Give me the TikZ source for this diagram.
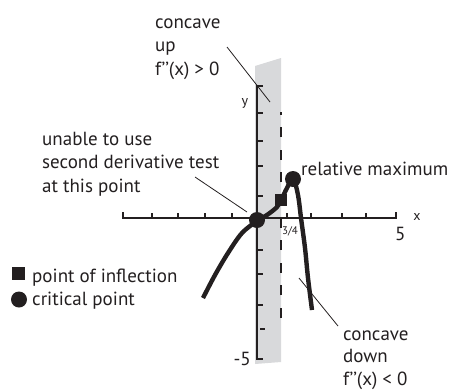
\documentclass[tikz,border=0pt]{standalone}
\usepackage{fontspec}
\setmainfont{PT Sans}
\definecolor{bandgray}{RGB}{216,217,219}
\definecolor{ink}{RGB}{35,31,32}
\begin{document}
\begin{tikzpicture}[x=1pt,y=-1pt,
  lbl/.style={inner sep=0pt, anchor=base west, align=left, text=ink,
              font=\fontsize{19}{23.5}\selectfont},
  small/.style={inner sep=0pt, text=ink, font=\fontsize{14}{14}\selectfont},
  axline/.style={line width=2.5pt, draw=ink},
  tickline/.style={line width=2pt, draw=ink},
  pointer/.style={line width=0.8pt, draw=ink},
  curveline/.style={line width=4.4pt, draw=ink, line cap=butt},
  crit/.style={circle, fill=ink, inner sep=0pt, minimum size=16pt},
  infl/.style={rectangle, fill=ink, inner sep=0pt, minimum size=12.5pt}]
\useasboundingbox (0,0) rectangle (450,389);
% shaded band
\fill[bandgray] (255,66) -- (281,58) -- (281,362) -- (255,364) -- cycle;
% x axis
\draw[axline] (123,212) -- (123,218) -- (396,218) -- (396,212);
\foreach \x in {152,178,205,232,287,311,342,366}
  \draw[tickline] (\x,218) -- (\x,212.5);
% y axis
\draw[axline] (263,86) -- (257,86) -- (257,359) -- (263,359);
\foreach \y in {113,141,166,196,250,274,305}
  \draw[tickline] (257,\y) -- (263,\y);
\draw[tickline] (260,329) -- (265,329);
% dashed line at x = 3/4
\draw[line width=2.5pt, draw=ink, dash pattern=on 10pt off 12.6pt] (281,318) -- (281,112);
% the curve
\draw[curveline] plot[smooth, tension=0.55] coordinates {
  (203,298) (215,275) (228,253) (242,233) (257,221) (267,215) (277,207)
  (281,200) (287,188) (293,178) (298,195) (301,218) (305,248) (308,278) (312,310)};
% points
\node[crit] (cp0) at (257,220) {};
\node[crit] (cpmax) at (293,179) {};
\node[infl] (ip) at (281,200) {};
% axis labels
\node[small] (ylab) at (245,103) {y};
\node[small] (xlab) at (417,217) {x};
\node[small, font=\fontsize{11}{11}\selectfont] (q) at (290,231) {3/4};
\node[lbl, anchor=base west] (five) at (395,240) {5};
\node[lbl, anchor=base east] (mfive) at (251,365) {-5};
% annotations (anchor at baseline of the last line)
\node[lbl] (cu) at (155,75) {concave\\up\\f’’(x) \textgreater{} 0};
\node[lbl] (un) at (42,192) {unable to use\\second derivative test\\at this point};
\node[lbl] (rm) at (301,175) {relative maximum};
\node[lbl, font=\fontsize{19}{22.5}\selectfont] (cd) at (343,385) {concave\\down\\f’’(x) \textless{} 0};
\coordinate (cuend) at (270,102);
\coordinate (custart) at (227,47);
\coordinate (unstart) at (195,177);
\coordinate (unend) at (247,212);
\coordinate (cdstart) at (338,326);
\coordinate (cdend) at (299,278);
\draw[pointer] (custart) -- (cuend);
\draw[pointer] (unstart) -- (unend);
\draw[pointer] (cdstart) -- (cdend);
% legend
\node[infl, minimum size=13pt] (lsq) at (18.5,273) {};
\node[lbl] (lsqt) at (32,282) {point of inflection};
\node[crit] (lci) at (19,299.5) {};
\node[lbl] (lcit) at (32,305) {critical point};
\end{tikzpicture}
\end{document}
